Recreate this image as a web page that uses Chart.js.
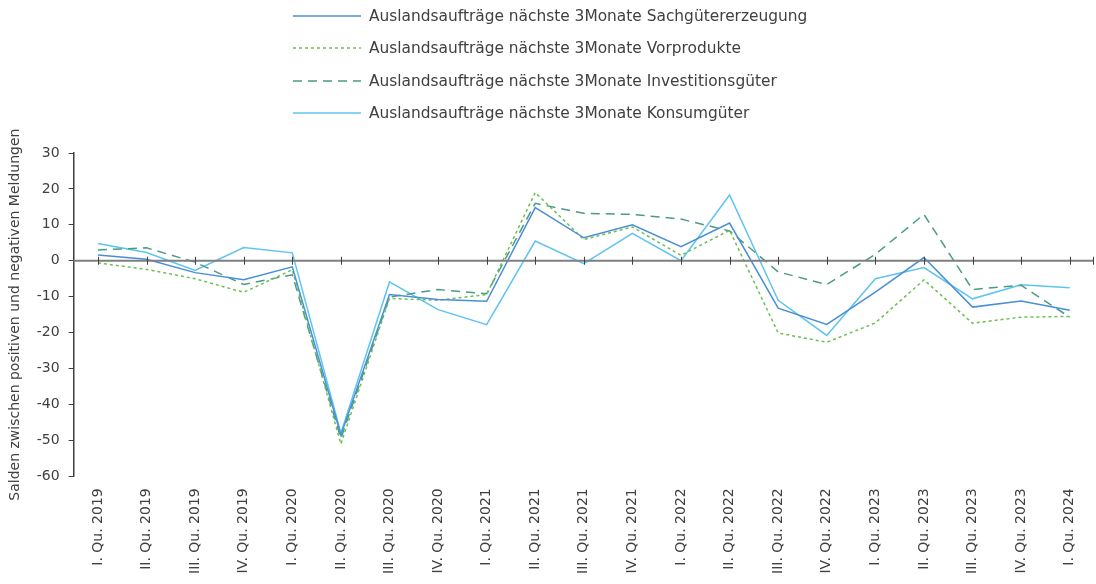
<!DOCTYPE html>
<html>
<head>
<meta charset="utf-8">
<script src="https://cdn.jsdelivr.net/npm/chart.js@4"></script>
<style>
  html, body { margin: 0; padding: 0; background: #fff; }
  #wrap { position: relative; width: 1096px; height: 584px; }
  #legende { position: absolute; left: 293px; top: 0px; font-family: "DejaVu Sans", sans-serif; font-size: 15.4px; color: #404040; }
  .eintrag { height: 32.3px; display: flex; align-items: center; }
  .eintrag svg { margin-right: 8px; }
</style>
</head>
<body>
<div id="wrap">
  <canvas id="chart" width="1096" height="584"></canvas>
  <div id="legende"></div>
</div>
<script>
const quartale = [
  "I. Qu. 2019", "II. Qu. 2019", "III. Qu. 2019", "IV. Qu. 2019",
  "I. Qu. 2020", "II. Qu. 2020", "III. Qu. 2020", "IV. Qu. 2020",
  "I. Qu. 2021", "II. Qu. 2021", "III. Qu. 2021", "IV. Qu. 2021",
  "I. Qu. 2022", "II. Qu. 2022", "III. Qu. 2022", "IV. Qu. 2022",
  "I. Qu. 2023", "II. Qu. 2023", "III. Qu. 2023", "IV. Qu. 2023",
  "I. Qu. 2024"
];

const sachgueter = [1.6, 0.4, -3.3, -5.3, -1.7, -48.5, -9.4, -10.8, -11.3, 14.8, 6.4, 10.0, 3.9, 10.5, -13.2, -17.7, -8.7, 0.9, -12.9, -11.2, -13.8];
const vorprodukte = [-0.6, -2.4, -5.0, -8.8, -2.5, -51.0, -10.5, -11.0, -9.4, 19.0, 5.9, 9.4, 1.5, 8.5, -20.1, -22.7, -17.3, -5.3, -17.4, -15.7, -15.5];
const investition = [3.0, 3.6, -0.4, -6.6, -3.9, -49.5, -10.1, -8.0, -9.2, 16.0, 13.2, 12.9, 11.6, 8.3, -3.1, -6.6, 1.8, 12.9, -8.0, -6.8, -15.7];
const konsum = [4.8, 2.3, -2.7, 3.7, 2.2, -48.0, -5.9, -13.6, -17.8, 5.5, -0.8, 7.6, 0.0, 18.3, -11.0, -20.8, -5.0, -1.9, -10.6, -6.7, -7.5];

const yMin = -60, yMax = 30, yStep = 10;

const serien = [
  { label: "Auslandsaufträge nächste 3Monate Sachgütererzeugung", data: sachgueter, farbe: "#4a8fd6", dash: [] },
  { label: "Auslandsaufträge nächste 3Monate Vorprodukte", data: vorprodukte, farbe: "#6cbf50", dash: [3, 3] },
  { label: "Auslandsaufträge nächste 3Monate Investitionsgüter", data: investition, farbe: "#4a9c84", dash: [9, 6] },
  { label: "Auslandsaufträge nächste 3Monate Konsumgüter", data: konsum, farbe: "#5ec4f0", dash: [] }
];

const schrift = "'DejaVu Sans', sans-serif";

// Legende als HTML, eine Serie pro Zeile
const legende = document.getElementById("legende");
serien.forEach(s => {
  const div = document.createElement("div");
  div.className = "eintrag";
  div.innerHTML = '<svg width="68" height="6"><line x1="0" y1="3" x2="68" y2="3" stroke="' + s.farbe +
    '" stroke-width="1.5" stroke-dasharray="' + (s.dash.length ? s.dash.join(",") : "none") + '"/></svg>' +
    '<span>' + s.label + '</span>';
  legende.appendChild(div);
});

// Nulllinie mit Teilstrichen
const nullLinie = {
  id: "nullLinie",
  afterDatasetsDraw(chart) {
    const { ctx, chartArea, scales } = chart;
    const y0 = scales.y.getPixelForValue(0);
    ctx.save();
    ctx.strokeStyle = "#7f7f7f";
    ctx.lineWidth = 2;
    ctx.beginPath();
    ctx.moveTo(chartArea.left, y0);
    ctx.lineTo(chartArea.right, y0);
    ctx.stroke();
    ctx.strokeStyle = "#404040";
    ctx.lineWidth = 1;
    ctx.beginPath();
    quartale.forEach((q, i) => {
      const x = Math.round(scales.x.getPixelForValue(i)) + 0.5;
      ctx.moveTo(x, y0 - 4);
      ctx.lineTo(x, y0 + 4);
    });
    ctx.moveTo(chartArea.right - 0.5, y0 - 4);
    ctx.lineTo(chartArea.right - 0.5, y0 + 4);
    ctx.stroke();
    ctx.restore();
  }
};

new Chart(document.getElementById("chart").getContext("2d"), {
  type: "line",
  data: {
    labels: quartale,
    datasets: serien.map(s => ({
      label: s.label,
      data: s.data,
      borderColor: s.farbe,
      backgroundColor: s.farbe,
      borderWidth: 1.5,
      borderDash: s.dash,
      pointRadius: 0,
      tension: 0,
      fill: false
    }))
  },
  options: {
    responsive: false,
    animation: false,
    layout: { padding: { top: 153, right: 2, left: 7, bottom: 6 } },
    scales: {
      x: {
        offset: true,
        grid: { display: false },
        border: { display: false },
        ticks: {
          autoSkip: false,
          maxRotation: 90,
          minRotation: 90,
          padding: 4,
          color: "#404040",
          font: { family: schrift, size: 14 }
        }
      },
      y: {
        min: yMin,
        max: yMax,
        ticks: {
          stepSize: yStep,
          color: "#404040",
          padding: 9,
          font: { family: schrift, size: 14 }
        },
        grid: { drawOnChartArea: false, drawTicks: true, tickLength: 5, color: "#404040" },
        border: { display: true, color: "#404040", width: 1.5 },
        title: {
          display: true,
          text: "Salden zwischen positiven und negativen Meldungen",
          color: "#404040",
          font: { family: schrift, size: 14 },
          padding: { top: 0, bottom: 4 }
        }
      }
    },
    plugins: {
      legend: { display: false },
      tooltip: { enabled: false }
    }
  },
  plugins: [nullLinie]
});
</script>
</body>
</html>
